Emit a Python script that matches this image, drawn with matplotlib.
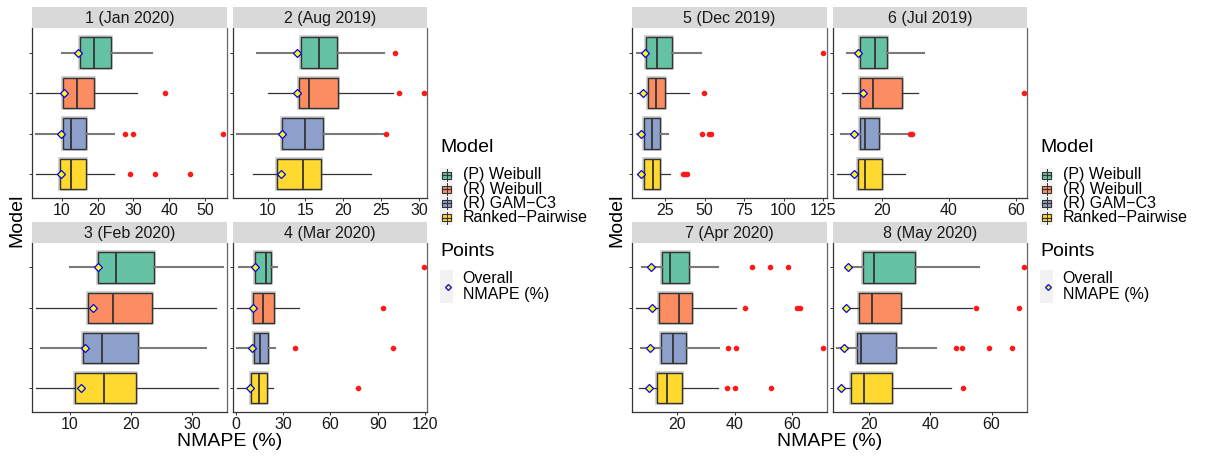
import numpy as np
import matplotlib
matplotlib.use('Agg')
import matplotlib.pyplot as plt
from matplotlib.patches import Rectangle
import matplotlib.patheffects as pe

plt.rcParams['font.family'] = ['Liberation Sans', 'DejaVu Sans']

# ---- data ----
models = ['(P) Weibull', '(R) Weibull', '(R) GAM\u2212C3', 'Ranked\u2212Pairwise']
colors = ['#66c2a5', '#fc8d62', '#8da0cb', '#ffd92f']
titles = ['1 (Jan 2020)', '2 (Aug 2019)', '3 (Feb 2020)', '4 (Mar 2020)',
          '5 (Dec 2019)', '6 (Jul 2019)', '7 (Apr 2020)', '8 (May 2020)']

# per panel, per model (P Weibull, R Weibull, R GAM-C3, Ranked-Pairwise)
whis_lo = [[10.1, 2.8, 2.8, 2.8], [8.6, 10.0, 6.0, 8.0],
           [10.05, 4.5, 5.2, 4.5], [2.1, 0.6, 0.6, 0.6],
           [7.5, 7.5, 7.5, 7.5], [9.3, 8.0, 7.6, 6.3],
           [8.0, 5.9, 7.4, 6.9], [13.1, 12.6, 9.5, 10.6]]
q1 = [[15.1, 10.3, 10.3, 9.5], [14.45, 14.1, 11.85, 11.3],
      [14.6, 13.0, 12.1, 10.8], [12.3, 11.0, 11.6, 9.7],
      [13.2, 14.0, 11.9, 11.9], [13.4, 13.4, 13.2, 12.8],
      [14.7, 13.9, 14.6, 13.2], [17.9, 16.7, 16.1, 14.1]]
med = [[19.1, 14.2, 12.7, 12.7], [16.8, 15.5, 14.9, 14.7],
       [17.5, 17.0, 15.2, 15.6], [18.8, 17.1, 15.2, 14.4],
       [20.1, 19.5, 17.0, 17.6], [17.8, 17.3, 14.8, 14.8],
       [17.6, 20.6, 18.5, 16.6], [21.6, 21.0, 17.2, 18.4]]
q3 = [[23.9, 19.0, 16.8, 16.8], [19.1, 19.25, 17.35, 17.1],
      [23.7, 23.35, 21.1, 20.8], [22.4, 23.9, 20.1, 19.9],
      [29.2, 25.2, 22.0, 21.8], [21.4, 25.9, 19.1, 19.8],
      [24.0, 25.2, 23.1, 21.8], [35.1, 30.5, 28.6, 27.3]]
whis_hi = [[35.1, 31.1, 24.5, 24.5], [25.4, 26.6, 25.3, 23.6],
           [35.0, 33.9, 32.2, 34.1], [25.8, 39.8, 25.0, 23.5],
           [47.6, 40.4, 26.9, 28.4], [32.5, 30.7, 27.8, 26.8],
           [34.1, 40.3, 34.7, 34.3], [56.0, 53.7, 41.8, 46.6]]
outliers = [[[], [38.9], [27.7, 29.9, 55.0], [29.2, 36.0, 45.9]],
            [[26.8], [27.4, 30.6], [25.6], []],
            [[], [], [], []],
            [[119.2], [93.3], [37.5, 99.7], [77.7]],
            [[125.0], [49.9], [48.4, 53.1, 54.1], [36.6, 37.9, 39.1]],
            [[], [62.4], [28.3, 28.8], []],
            [[46.0, 52.1, 58.6], [43.6, 61.5, 62.7], [37.8, 40.6, 70.6], [37.2, 40.0, 52.7]],
            [[70.5], [54.8, 69.0], [48.3, 50.2, 59.2, 66.8], [50.7]]]
overall = [[14.5, 10.7, 9.9, 9.7], [13.9, 13.9, 11.9, 11.8],
           [14.5, 13.8, 12.5, 11.8], [11.9, 11.0, 9.9, 9.1],
           [12.3, 11.1, 9.6, 9.6], [12.8, 14.3, 11.6, 11.6],
           [11.0, 11.4, 10.8, 10.3], [13.1, 12.5, 11.6, 10.7]]

xlims = [(1.8, 56.05), (5.46, 31.1), (3.84, 35.6), (-1.7, 121.5),
         (4.3, 127.3), (5.3, 63.5), (4.5, 71.9), (8.2, 71.7)]
xticks = [[10, 20, 30, 40, 50], [10, 15, 20, 25, 30], [10, 20, 30],
          [0, 30, 60, 90, 120], [25, 50, 75, 100, 125], [20, 40, 60],
          [20, 40, 60], [20, 40, 60]]

# ---- layout in pixels ----
W, H = 1207, 458
fig = plt.figure(figsize=(W / 100, H / 100), dpi=100)

col_x = [(32.3, 226.7), (233.3, 427.3)]
row_y = [(28.3, 198.3), (243.3, 412.3)]
strip_y = [(7.3, 28.3), (221.7, 243.3)]
group_dx = [0, 600]

ink = '#333333'
positions = [4, 3, 2, 1]


def px_axes(x0, y0, x1, y1, **kw):
    return fig.add_axes([x0 / W, 1 - y1 / H, (x1 - x0) / W, (y1 - y0) / H], **kw)


# overlay for labels and legends
ov = px_axes(0, 0, W, H)
ov.set_xlim(0, W)
ov.set_ylim(H, 0)
ov.axis('off')

for p in range(8):
    g = p // 4
    r = (p % 4) // 2
    c = p % 2
    x0, x1 = col_x[c][0] + group_dx[g], col_x[c][1] + group_dx[g]
    y0, y1 = row_y[r]
    ax = px_axes(x0, y0, x1, y1)

    stats = []
    for m in range(4):
        stats.append(dict(whislo=whis_lo[p][m], q1=q1[p][m], med=med[p][m],
                          q3=q3[p][m], whishi=whis_hi[p][m],
                          fliers=outliers[p][m]))
    res = ax.bxp(stats, positions=positions, widths=0.75,
                 orientation='horizontal', patch_artist=True, showcaps=False,
                 boxprops=dict(edgecolor=ink, linewidth=1.0),
                 medianprops=dict(color=ink, linewidth=1.3),
                 whiskerprops=dict(color=ink, linewidth=0.9),
                 flierprops=dict(marker='o', markersize=3.0,
                                 markerfacecolor='#ff1a1a',
                                 markeredgecolor='#ff1a1a'))
    for m, box in enumerate(res['boxes']):
        box.set_facecolor(colors[m])
        box.set_path_effects([pe.withStroke(linewidth=2.6, foreground='#c8c8c8')])
    for k, wl in enumerate(res['whiskers']):
        if (k // 2) % 2 == 0:
            wl.set_color('#7a7a7a')
            wl.set_linewidth(1.5)
    ax.plot(overall[p], positions, linestyle='none', marker='D', markersize=3.9,
            markerfacecolor='#ffff00', markeredgecolor='#0000ff',
            markeredgewidth=0.9, zorder=5)

    ax.set_xlim(*xlims[p])
    ax.set_ylim(0.4, 4.6)
    ax.set_xticks(xticks[p])
    ax.set_yticks([1, 2, 3, 4])
    ax.set_yticklabels([])
    ax.tick_params(axis='both', length=2.2, width=0.7, color=ink,
                   labelsize=11.5, labelcolor='#1a1a1a', pad=1.5)
    ax.spines['top'].set_visible(False)
    for s in ['left', 'bottom']:
        ax.spines[s].set_color(ink)
        ax.spines[s].set_linewidth(0.9)
    ax.spines['right'].set_color('#666666')
    ax.spines['right'].set_linewidth(0.9)
    ax.set_facecolor('white')

    sy0, sy1 = strip_y[r]
    st = px_axes(x0, sy0, x1, sy1)
    st.set_facecolor('#d9d9d9')
    st.set_xticks([])
    st.set_yticks([])
    for s in st.spines.values():
        s.set_visible(False)
    st.text(0.5, 0.45, titles[p], ha='center', va='center', fontsize=11.5,
            color='#1a1a1a', transform=st.transAxes)

for g in range(2):
    dx = group_dx[g]
    ov.text(230 + dx, 441, 'NMAPE (%)', ha='center', va='center', fontsize=14)
    ov.text(17 + dx, 220, 'Model', ha='center', va='center', fontsize=14,
            rotation=90)

    # legend: Model
    lx = 440 + dx
    ov.text(lx, 148, 'Model', ha='left', va='center', fontsize=14)
    item_y = [175, 189.3, 203.3, 217.5]
    ov.add_patch(Rectangle((lx, 168), 13, 57, facecolor='#f2f2f2',
                           edgecolor='none'))
    for m in range(4):
        cy = item_y[m]
        cx = lx + 6.5
        ov.plot([cx, cx], [cy - 6, cy + 6], color=ink, lw=0.7)
        ov.add_patch(Rectangle((cx - 4.5, cy - 3.5), 9, 7, facecolor=colors[m],
                               edgecolor=ink, lw=0.8))
        ov.plot([cx - 4.5, cx + 4.5], [cy, cy], color=ink, lw=0.9)
        ov.text(lx + 22.7, cy, models[m], ha='left', va='center', fontsize=11.5)

    # legend: Points
    ov.text(lx, 252, 'Points', ha='left', va='center', fontsize=14)
    ov.add_patch(Rectangle((lx, 270), 13, 33, facecolor='#f2f2f2',
                           edgecolor='none'))
    ov.plot([lx + 7.5], [286.5], linestyle='none', marker='D', markersize=3.0,
            markerfacecolor='#ffff00', markeredgecolor='#0000ff',
            markeredgewidth=0.9)
    ov.text(lx + 22.7, 278.5, 'Overall', ha='left', va='center', fontsize=11.5)
    ov.text(lx + 22.7, 295, 'NMAPE (%)', ha='left', va='center', fontsize=11.5)

fig.savefig('out.png', dpi=100)
